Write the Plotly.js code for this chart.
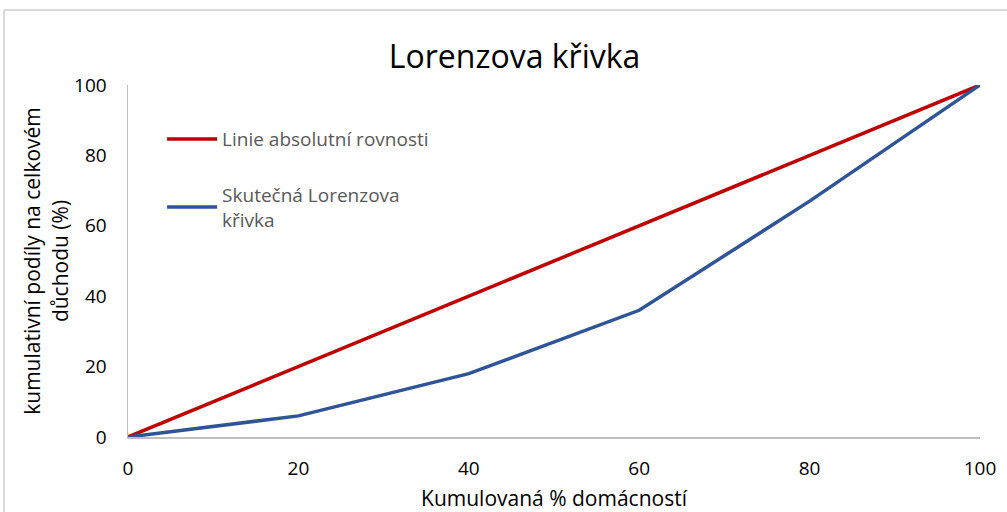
<!DOCTYPE html>
<html><head><meta charset="utf-8">
<script src="https://cdn.plot.ly/plotly-3.0.1.min.js"></script>
<style>body{margin:0;background:#fff}#chart{width:1007px;height:512px}</style>
</head><body><div id="chart"></div>
<script>
const xCum = [0, 20, 40, 60, 80, 100];
const equality = [0, 20, 40, 60, 80, 100];
const lorenz = [0, 6, 18, 36, 67, 100];
const xTicks = [0, 20, 40, 60, 80, 100];
const yTicks = [0, 20, 40, 60, 80, 100];
const seriesNames = ['Linie absolutní rovnosti', 'Skutečná Lorenzova<br>křivka'];

const FONT = '"Liberation Sans Narrow", "Open Sans", sans-serif';
const traces = [
  {x: xCum, y: equality, mode: 'lines', name: seriesNames[0], legendgroup: 'a',
   line: {color: '#c00000', width: 3.5}},
  {x: xCum, y: lorenz, mode: 'lines', name: seriesNames[1], legendgroup: 'b',
   line: {color: '#2f5597', width: 3.5}}
];
const layout = {
  width: 1007, height: 512,
  margin: {l: 128, r: 27, t: 85, b: 75},
  paper_bgcolor: '#fff', plot_bgcolor: '#fff',
  font: {family: FONT, color: '#000'},
  title: {text: 'Lorenzova křivka', font: {size: 32, family: FONT, color: '#000'},
          x: 0.511, xanchor: 'center', y: 0.89, yanchor: 'middle'},
  xaxis: {range: [0, 100], tickvals: xTicks, ticktext: xTicks.map(String),
          showgrid: false, zeroline: false, showline: true, linecolor: '#bfbfbf', linewidth: 1.5,
          ticks: '', ticklabelstandoff: 14, tickfont: {size: 19, family: FONT},
          title: {text: 'Kumulovaná % domácností', font: {size: 21, family: FONT}, standoff: 12}},
  yaxis: {range: [0, 100], tickvals: yTicks, ticktext: yTicks.map(String),
          showgrid: false, zeroline: false, showline: true, linecolor: '#bfbfbf', linewidth: 1.5,
          ticks: '', ticklabelstandoff: 16, tickfont: {size: 19, family: FONT},
          title: {text: 'kumulativní podíly na celkovém<br>důchodu (%)', font: {size: 21, family: FONT}, standoff: 0}},
  showlegend: true,
  legend: {x: 0.04, y: 0.9, xanchor: 'left', yanchor: 'top', bgcolor: 'rgba(0,0,0,0)',
           font: {size: 19, family: FONT, color: '#595959'}, tracegroupgap: 28, itemwidth: 50},
  shapes: [
    {type: 'line', xref: 'paper', yref: 'paper', x0: -0.1455, x1: 1.1, y0: 1.213, y1: 1.213,
     line: {color: '#d9d9d9', width: 2}},
    {type: 'line', xref: 'paper', yref: 'paper', x0: -0.1455, x1: -0.1455, y0: 1.213, y1: -0.3,
     line: {color: '#d9d9d9', width: 2}}
  ]
};
Plotly.newPlot('chart', traces, layout, {displayModeBar: false, staticPlot: true});
</script></body></html>
